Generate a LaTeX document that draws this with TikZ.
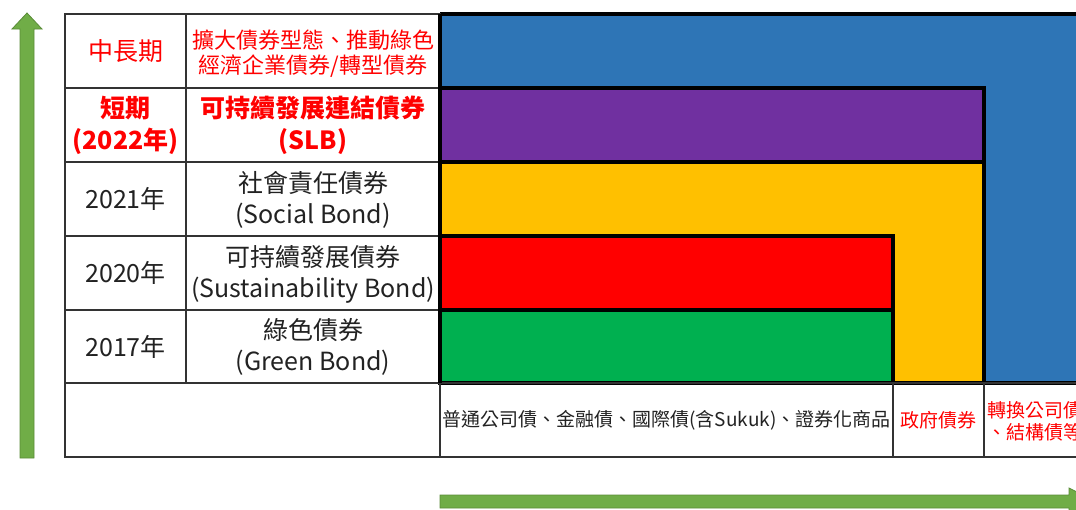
\documentclass[tikz,border=0pt]{standalone}
\usepackage{fontspec}
\setmainfont{Noto Sans CJK TC}
\usetikzlibrary{positioning}
\definecolor{ink}{HTML}{222222}
\definecolor{hot}{HTML}{FF0000}
\definecolor{gridline}{HTML}{333333}
\definecolor{midterm}{HTML}{2E75B6}
\definecolor{slb}{HTML}{7030A0}
\definecolor{social}{HTML}{FFC000}
\definecolor{sustain}{HTML}{FF0000}
\definecolor{greenbond}{HTML}{00B050}
\definecolor{arrowfill}{HTML}{70AD47}
\definecolor{arrowedge}{HTML}{5A8C38}
\tikzset{
  Block/.style={draw=black, line width=3.6pt},
  Grid/.style={draw=gridline, line width=1.6pt},
  Growth/.style={fill=arrowfill, draw=arrowedge, line width=0.8pt},
  Cell/.style={align=center, inner sep=0pt, text=ink,
    font=\fontsize{25}{31}\selectfont},
  HotCell/.style={Cell, text=hot},
  SmallCell/.style={Cell, font=\fontsize{19}{22}\selectfont}
}
\begin{document}
\begin{tikzpicture}[x=1pt, y=-1pt, line join=miter]
  \useasboundingbox (0,0) rectangle (1076,509);

  % colour blocks, largest first
  \fill[midterm] (440,14) rectangle (1100,383);
  \draw[Block] (440,14) -- (1100,14) (1100,383) -- (440,383) -- (440,14);
  \filldraw[Block, fill=social] (440,162) rectangle (984,383);
  \filldraw[Block, fill=slb] (440,88) rectangle (984,162);
  \filldraw[Block, fill=sustain] (440,236) rectangle (893,310);
  \filldraw[Block, fill=greenbond] (440,310) rectangle (893,383);

  % table grid
  \draw[Grid] (65,14) rectangle (440,457);
  \draw[Grid] (440,383) -- (1100,383) (440,457) -- (1100,457);
  \draw[Grid] (186,14) -- (186,383);
  \foreach \y in {88,162,236,310,383}
    \draw[Grid] (65,\y) -- (440,\y);
  \foreach \x in {893,984}
    \draw[Grid] (\x,383) -- (\x,457);
  \draw[Block] (440,14) -- (440,383);

  % left column
  \node[HotCell] (midyear) at (125.5,51) {中長期};
  \node[HotCell, font=\bfseries\fontsize{25}{32}\selectfont] (shortyear) at (125.5,125) {短期\\(2022年)};
  \node[Cell] (y2021) at (125.5,199) {2021年};
  \node[Cell] (y2020) at (125.5,273) {2020年};
  \node[Cell] (y2017) at (125.5,346.5) {2017年};

  % bond column
  \node[HotCell, font=\fontsize{22}{25}\selectfont] (midbond) at (313,54) {擴大債券型態、推動綠色\\經濟企業債券/轉型債券};
  \node[HotCell, font=\bfseries\fontsize{25}{32}\selectfont] (slbbond) at (313,125) {可持續發展連結債券\\(SLB)};
  \node[Cell] (socialbond) at (313,200) {社會責任債券\\(Social Bond)};
  \node[Cell] (susbond) at (313,274) {可持續發展債券\\(Sustainability Bond)};
  \node[Cell] (greenb) at (313,347) {綠色債券\\(Green Bond)};

  % issuers along the bottom
  \node[SmallCell] (corp) at (666.5,420) {普通公司債、金融債、國際債(含Sukuk)、證券化商品};
  \node[SmallCell, text=hot] (gov) at (938.5,420) {政府債券};
  \node[SmallCell, text=hot, anchor=west, align=left] (conv) at (987,421) {轉換公司債\\、結構債等};

  % growth arrows
  \draw[Growth] (20,458) -- (20,29) -- (12,29) -- (27,13) -- (42,29) -- (34,29) -- (34,458) -- cycle;
  \draw[Growth] (440,495) -- (1069,495) -- (1069,488) -- (1096,501.5) -- (1069,515) -- (1069,508) -- (440,508) -- cycle;
\end{tikzpicture}
\end{document}
